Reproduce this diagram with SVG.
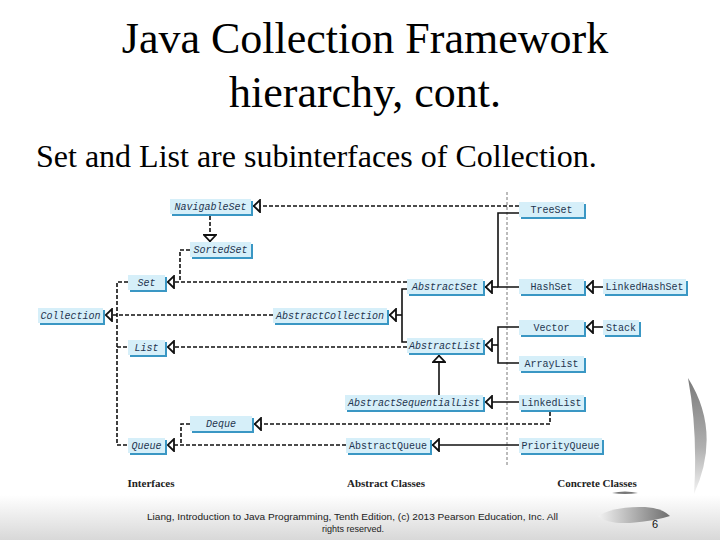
<svg xmlns="http://www.w3.org/2000/svg" width="720" height="540" viewBox="0 0 720 540">
<style>
.title{font-family:"Liberation Serif","Times New Roman",serif;font-size:44px;fill:#000;text-anchor:middle}
.sub{font-family:"Liberation Serif","Times New Roman",serif;font-size:32px;fill:#000}
.sh{fill:#3a97c4}
.bx{fill:#d6eff9}
.nt{font-family:"Liberation Mono","DejaVu Sans Mono",monospace;font-size:10px;fill:#1f3550;text-anchor:middle}
.it{font-style:italic}
.dash{fill:none;stroke:#111;stroke-width:1.6;stroke-dasharray:4 2}
.solid{fill:none;stroke:#111;stroke-width:1.6}
.lbl{font-family:"Liberation Serif","Times New Roman",serif;font-size:11px;font-weight:bold;fill:#222;text-anchor:middle}
.foot{font-family:"Liberation Sans",Arial,sans-serif;font-size:9px;fill:#222;text-anchor:middle}
</style>
<defs>
<marker id="tri" viewBox="0 0 8 14" refX="8" refY="7" markerWidth="8" markerHeight="14" orient="auto" markerUnits="userSpaceOnUse">
<path d="M1,1 L7.3,7 L1,13 Z" fill="#fff" stroke="#111" stroke-width="1.8" stroke-dasharray="none"/>
</marker>
<linearGradient id="band" x1="0" y1="0" x2="0" y2="1">
<stop offset="0" stop-color="#ffffff"/>
<stop offset="1" stop-color="#d8d8d8"/>
</linearGradient>
<linearGradient id="swoosh" x1="0" y1="0" x2="1" y2="0">
<stop offset="0" stop-color="#f2f2f2"/>
<stop offset="1" stop-color="#6e6e6e"/>
</linearGradient>
<linearGradient id="cres" x1="0" y1="0" x2="0" y2="1">
<stop offset="0" stop-color="#7a7a7a"/>
<stop offset="0.6" stop-color="#b0b0b0"/>
<stop offset="1" stop-color="#f4f4f4"/>
</linearGradient>
</defs>
<rect width="720" height="540" fill="#fff"/>
<rect x="0" y="495" width="720" height="45" fill="url(#band)"/>
<path d="M688,378 Q722,432 694,494 Q698,432 688,378 Z" fill="url(#cres)"/>
<path d="M612,493 Q625,490 638,493 Q625,495 612,493 Z" fill="#777"/>
<path d="M598,516 Q615,506 645,507 Q662,508 670,516 Q655,521 630,523 Q606,524 598,516 Z" fill="url(#swoosh)"/>

<text class="title" x="365" y="53">Java Collection Framework</text>
<text class="title" x="365" y="107">hierarchy, cont.</text>
<text class="sub" x="36" y="167">Set and List are subinterfaces of Collection.</text>

<line x1="507" y1="192" x2="507" y2="466" stroke="#555" stroke-width="0.8" stroke-dasharray="3 2"/>

<g id="connectors">
<path class="dash" d="M519,206 H253" marker-end="url(#tri)"/>
<path class="dash" d="M210,216 V242" marker-end="url(#tri)"/>
<path class="dash" d="M190,250 H180 V282"/>
<path class="dash" d="M407,282 H167" marker-end="url(#tri)"/>
<path class="dash" d="M128,282 H117 V445 H128"/>
<path class="dash" d="M117,347 H128"/>
<path class="dash" d="M273,315 H105" marker-end="url(#tri)"/>
<path class="dash" d="M407,347 H167" marker-end="url(#tri)"/>
<path class="dash" d="M190,424 H181 V445"/>
<path class="dash" d="M346,445 H167" marker-end="url(#tri)"/>
<path class="dash" d="M550,412 V424 H254" marker-end="url(#tri)"/>
<path class="solid" d="M407,289 H402 V342 H407"/>
<path class="solid" d="M402,315 H389" marker-end="url(#tri)"/>
<path class="solid" d="M519,213 H498 V287 H519"/>
<path class="solid" d="M498,287 H485" marker-end="url(#tri)"/>
<path class="solid" d="M603,287 H586" marker-end="url(#tri)"/>
<path class="solid" d="M603,327 H586" marker-end="url(#tri)"/>
<path class="solid" d="M519,327 H498 V363 H519"/>
<path class="solid" d="M498,345 H485" marker-end="url(#tri)"/>
<path class="solid" d="M439,395 V355" marker-end="url(#tri)"/>
<path class="solid" d="M519,402 H485" marker-end="url(#tri)"/>
<path class="solid" d="M519,445 H432" marker-end="url(#tri)"/>
</g>

<g id="NavigableSet"><rect class="sh" x="172" y="201" width="81" height="15"/><rect class="bx" x="170" y="199" width="81" height="15"/><text class="nt it" x="210.5" y="210">NavigableSet</text></g>
<g id="SortedSet"><rect class="sh" x="192" y="244" width="61" height="15"/><rect class="bx" x="190" y="242" width="61" height="15"/><text class="nt it" x="220.5" y="253">SortedSet</text></g>
<g id="Set"><rect class="sh" x="130" y="277" width="37" height="15"/><rect class="bx" x="128" y="275" width="37" height="15"/><text class="nt it" x="146.5" y="286">Set</text></g>
<g id="Collection"><rect class="sh" x="40" y="310" width="65" height="15"/><rect class="bx" x="38" y="308" width="65" height="15"/><text class="nt it" x="70.5" y="319">Collection</text></g>
<g id="List"><rect class="sh" x="130" y="342" width="37" height="15"/><rect class="bx" x="128" y="340" width="37" height="15"/><text class="nt it" x="146.5" y="351">List</text></g>
<g id="Deque"><rect class="sh" x="192" y="418" width="62" height="15"/><rect class="bx" x="190" y="416" width="62" height="15"/><text class="nt it" x="221" y="427">Deque</text></g>
<g id="Queue"><rect class="sh" x="130" y="440" width="37" height="15"/><rect class="bx" x="128" y="438" width="37" height="15"/><text class="nt it" x="146.5" y="449">Queue</text></g>
<g id="AbstractSet"><rect class="sh" x="409" y="281" width="76" height="15"/><rect class="bx" x="407" y="279" width="76" height="15"/><text class="nt it" x="445" y="290">AbstractSet</text></g>
<g id="AbstractCollection"><rect class="sh" x="275" y="310" width="114" height="15"/><rect class="bx" x="273" y="308" width="114" height="15"/><text class="nt it" x="330" y="319">AbstractCollection</text></g>
<g id="AbstractList"><rect class="sh" x="409" y="340" width="76" height="15"/><rect class="bx" x="407" y="338" width="76" height="15"/><text class="nt it" x="445" y="349">AbstractList</text></g>
<g id="AbstractSequentialList"><rect class="sh" x="347" y="397" width="138" height="15"/><rect class="bx" x="345" y="395" width="138" height="15"/><text class="nt it" x="414" y="406">AbstractSequentialList</text></g>
<g id="AbstractQueue"><rect class="sh" x="348" y="440" width="84" height="15"/><rect class="bx" x="346" y="438" width="84" height="15"/><text class="nt" x="388" y="449">AbstractQueue</text></g>
<g id="TreeSet"><rect class="sh" x="521" y="204" width="65" height="15"/><rect class="bx" x="519" y="202" width="65" height="15"/><text class="nt" x="551.5" y="213">TreeSet</text></g>
<g id="HashSet"><rect class="sh" x="521" y="281" width="65" height="15"/><rect class="bx" x="519" y="279" width="65" height="15"/><text class="nt" x="551.5" y="290">HashSet</text></g>
<g id="LinkedHashSet"><rect class="sh" x="605" y="281" width="83" height="15"/><rect class="bx" x="603" y="279" width="83" height="15"/><text class="nt" x="644.5" y="290">LinkedHashSet</text></g>
<g id="Vector"><rect class="sh" x="521" y="322" width="65" height="15"/><rect class="bx" x="519" y="320" width="65" height="15"/><text class="nt" x="551.5" y="331">Vector</text></g>
<g id="Stack"><rect class="sh" x="605" y="322" width="36" height="15"/><rect class="bx" x="603" y="320" width="36" height="15"/><text class="nt" x="621" y="331">Stack</text></g>
<g id="ArrayList"><rect class="sh" x="521" y="358" width="65" height="15"/><rect class="bx" x="519" y="356" width="65" height="15"/><text class="nt" x="551.5" y="367">ArrayList</text></g>
<g id="LinkedList"><rect class="sh" x="521" y="397" width="65" height="15"/><rect class="bx" x="519" y="395" width="65" height="15"/><text class="nt" x="551.5" y="406">LinkedList</text></g>
<g id="PriorityQueue"><rect class="sh" x="521" y="440" width="83" height="15"/><rect class="bx" x="519" y="438" width="83" height="15"/><text class="nt" x="560.5" y="449">PriorityQueue</text></g>

<text class="lbl" x="151" y="487">Interfaces</text>
<text class="lbl" x="386" y="487">Abstract Classes</text>
<text class="lbl" x="597" y="487">Concrete Classes</text>

<text class="foot" x="352.5" y="520" textLength="411" lengthAdjust="spacingAndGlyphs">Liang, Introduction to Java Programming, Tenth Edition, (c) 2013 Pearson Education, Inc. All</text>
<text class="foot" x="353" y="532">rights reserved.</text>
<text x="655" y="528" font-family="Liberation Sans,Arial,sans-serif" font-size="11" fill="#111" text-anchor="middle">6</text>
</svg>
